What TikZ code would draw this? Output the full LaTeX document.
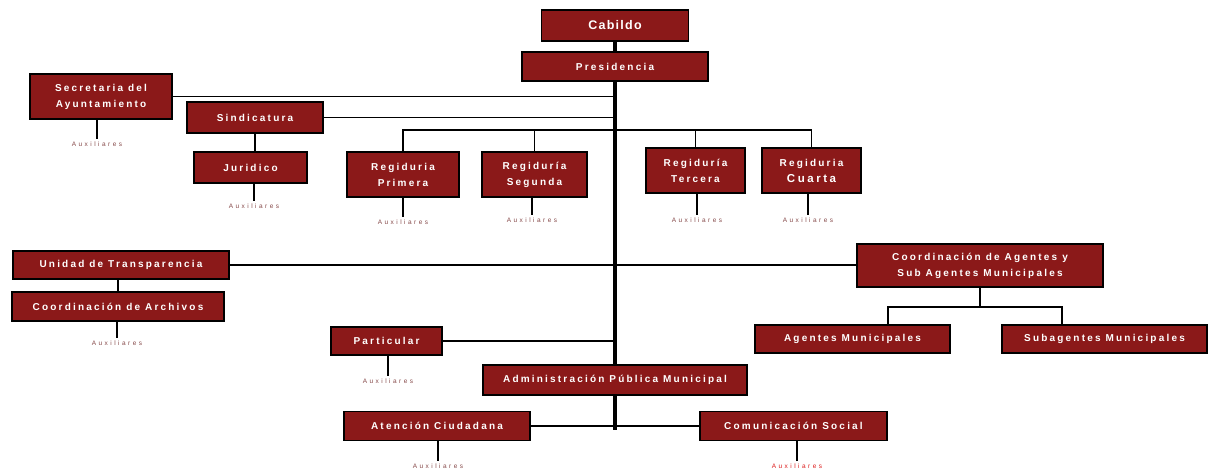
\documentclass[tikz,border=0pt]{standalone}
\usepackage{fontspec}
\setmainfont{Liberation Sans}
\newfontfamily\bxf[LetterSpace=22]{Liberation Sans}
\newfontfamily\cabf[LetterSpace=10]{Liberation Sans}
\newfontfamily\auxf[LetterSpace=38]{Liberation Sans}
\definecolor{boxred}{RGB}{139,25,25}
\definecolor{auxc}{RGB}{135,75,75}
\definecolor{auxr}{RGB}{220,30,30}
\begin{document}
\begin{tikzpicture}[x=1pt,y=-1pt,
 box/.style={draw=black,line width=1.6pt,fill=boxred,text=white,inner sep=0pt,align=center,font=\bxf\bfseries\fontsize{10}{16}\selectfont},
 conn/.style={line width=1.7pt,black},
 trunk/.style={line width=4pt,black},
 aux/.style={text=auxc,inner xsep=1pt,inner ysep=2.5pt,font=\auxf\fontsize{6.5}{7}\selectfont},
]
\useasboundingbox (0,0) rectangle (1210,474);

% boxes
\node[box,minimum width=147pt,minimum height=31pt,font=\cabf\bfseries\fontsize{12.5}{14}\selectfont] (cab) at (615,25.5) {Cabildo};
\node[box,minimum width=186pt,minimum height=29pt] (pres) at (615,66.5) {Presidencia};
\node[box,minimum width=142pt,minimum height=45pt] (sec) at (101,96.5) {Secretaria del\\Ayuntamiento};
\node[box,minimum width=136pt,minimum height=31pt] (sind) at (255,117.5) {Sindicatura};
\node[box,minimum width=113pt,minimum height=31pt] (jur) at (250.5,167.5) {Juridico};
\node[box,minimum width=112pt,minimum height=45pt] (reg1) at (403,174.5) {Regiduria\\Primera};
\node[box,minimum width=105pt,minimum height=45pt] (reg2) at (534.5,174.5) {Regiduría\\Segunda};
\node[box,minimum width=99pt,minimum height=45pt] (reg3) at (695.5,170.5) {Regiduría\\Tercera};
\node[box,minimum width=99pt,minimum height=45pt] (reg4) at (811.5,170.5) {Regiduria\\{\fontsize{11.5}{16}\selectfont Cuarta}};
\node[box,minimum width=216pt,minimum height=28pt] (tra) at (121,265) {Unidad de Transparencia};
\node[box,minimum width=212pt,minimum height=29pt] (arch) at (118,306.5) {Coordinación de Archivos};
\node[box,minimum width=246pt,minimum height=43pt] (agc) at (980,265.5) {Coordinación de Agentes y\\Sub Agentes Municipales};
\node[box,minimum width=195pt,minimum height=28pt] (am) at (852.5,339) {Agentes Municipales};
\node[box,minimum width=205pt,minimum height=28pt] (sm) at (1104.5,339) {Subagentes Municipales};
\node[box,minimum width=111pt,minimum height=28pt] (part) at (386.5,341) {Particular};
\node[box,minimum width=264pt,minimum height=30pt] (adm) at (615,380) {Administración Pública Municipal};
\node[box,minimum width=186pt,minimum height=29pt] (aten) at (437,426) {Atención Ciudadana};
\node[box,minimum width=187pt,minimum height=29pt] (com) at (793.5,426) {Comunicación Social};

% auxiliares
\node[aux] (asec) at (97,144) {Auxiliares};
\node[aux] (ajur) at (254,206) {Auxiliares};
\node[aux] (ar1) at (403,222) {Auxiliares};
\node[aux] (ar2) at (532,220) {Auxiliares};
\node[aux] (ar3) at (697,220) {Auxiliares};
\node[aux] (ar4) at (808,220) {Auxiliares};
\node[aux] (aarch) at (117,343) {Auxiliares};
\node[aux] (apart) at (388,381) {Auxiliares};
\node[aux] (aaten) at (438,466) {Auxiliares};
\node[aux,text=auxr] (acom) at (797,466) {Auxiliares};

\coordinate (trunkend) at (615,430);
\coordinate (bus) at (615,130);
\coordinate (b1) at (888,307);
\coordinate (b2) at (1062,307);

% trunk
\draw[trunk] (cab.south) -- (pres.north);
\draw[trunk] (pres.south) -- (adm.north);
\draw[trunk] (adm.south) -- (trunkend);

% branches
\draw[conn] (sec.east) -- (sec.east -| pres.south);
\draw[conn] (sind.east) -- (sind.east -| pres.south);
\draw[conn] (reg1.north) -- (reg1.north |- bus) -- (reg4.north |- bus) -- (reg4.north);
\draw[conn] (reg2.north) -- (reg2.north |- bus);
\draw[conn] (reg3.north) -- (reg3.north |- bus);
\draw[conn] (sind.south) -- (sind.south |- jur.north);
\draw[conn] (tra.east) -- (tra.east -| agc.west);
\draw[conn] (arch.north) -- (arch.north |- tra.south);
\draw[conn] (agc.south) -- (agc.south |- b1);
\draw[conn] (b1 |- am.north) -- (b1) -- (b2) -- (b2 |- sm.north);
\draw[conn] (part.east) -- (part.east -| adm.north);
\draw[conn] (aten.east) -- (com.west);

% auxiliares stubs
\draw[conn] (asec.north) -- (asec.north |- sec.south);
\draw[conn] (ajur.north) -- (ajur.north |- jur.south);
\draw[conn] (ar1.north) -- (ar1.north |- reg1.south);
\draw[conn] (ar2.north) -- (ar2.north |- reg2.south);
\draw[conn] (ar3.north) -- (ar3.north |- reg3.south);
\draw[conn] (ar4.north) -- (ar4.north |- reg4.south);
\draw[conn] (aarch.north) -- (aarch.north |- arch.south);
\draw[conn] (apart.north) -- (apart.north |- part.south);
\draw[conn] (aaten.north) -- (aaten.north |- aten.south);
\draw[conn] (acom.north) -- (acom.north |- com.south);
\end{tikzpicture}
\end{document}
